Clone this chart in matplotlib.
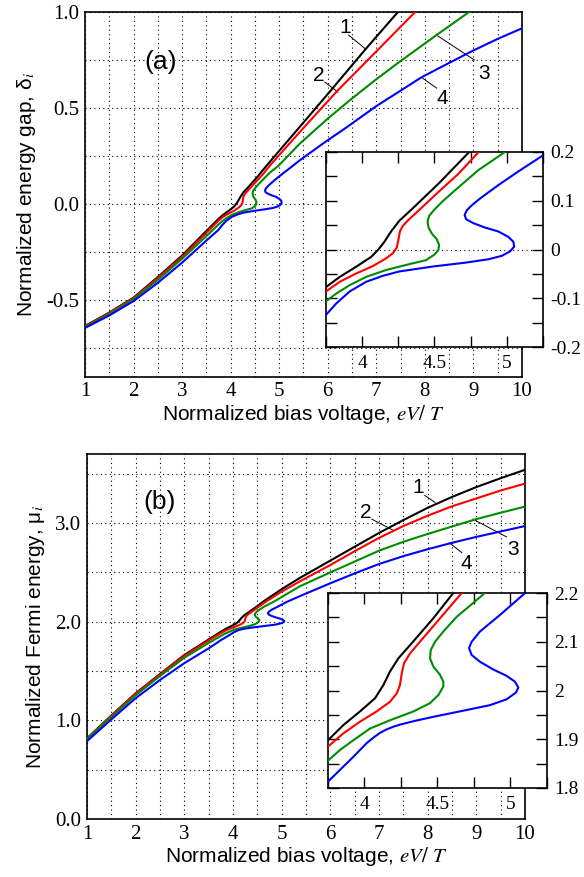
import matplotlib
matplotlib.use("Agg")
import matplotlib.pyplot as plt
from matplotlib.ticker import MultipleLocator, FormatStrFormatter, FuncFormatter

plt.rcParams['font.family'] = 'Liberation Serif'
plt.rcParams['mathtext.fontset'] = 'stix'

# ---- panel (a): energy gap vs bias voltage ----
gap_x1 = [1.0, 1.5, 2.0, 2.5, 3.0, 3.5, 3.75, 3.846, 3.96, 4.063, 4.115, 4.154, 4.20, 4.257, 4.348,
          4.531, 4.74, 5.43, 6.0, 6.78, 7.445]
gap_y1 = [-0.635, -0.565, -0.487, -0.38, -0.268, -0.14, -0.077, -0.056, -0.035, -0.015, 0.001, 0.016, 0.037,
          0.059, 0.084, 0.136, 0.2, 0.404, 0.573, 0.807, 1.0]
gap_x2 = [1.0, 1.5, 2.0, 2.5, 3.0, 3.5, 3.75, 3.846, 3.96, 4.074, 4.166, 4.211, 4.239, 4.25, 4.261, 4.28,
          4.314, 4.394, 4.531, 4.668, 4.805, 5.43, 6.18, 7.80]
gap_y2 = [-0.637, -0.567, -0.49, -0.385, -0.275, -0.15, -0.086, -0.066, -0.049, -0.034, -0.018, -0.008,
          0.004, 0.019, 0.037, 0.048, 0.059, 0.081, 0.119, 0.156, 0.2, 0.377, 0.585, 1.0]
gap_x3 = [1.0, 1.5, 2.0, 2.5, 3.0, 3.5, 3.75, 3.823, 3.914, 4.029, 4.166, 4.326, 4.44, 4.497, 4.527, 4.532,
          4.516, 4.481, 4.459, 4.452, 4.463, 4.497, 4.553, 4.644, 4.804, 4.987, 5.43, 6.0, 6.5, 7.0, 7.5,
          8.24, 8.91]
gap_y3 = [-0.64, -0.572, -0.495, -0.395, -0.285, -0.167, -0.106, -0.090, -0.073, -0.056, -0.042, -0.030,
          -0.022, -0.011, -0.001, 0.009, 0.021, 0.033, 0.045, 0.057, 0.069, 0.081, 0.098, 0.122, 0.163, 0.2,
          0.316, 0.445, 0.55, 0.65, 0.745, 0.88, 1.0]
gap_x4 = [1.0, 1.5, 2.0, 2.5, 3.0, 3.5, 3.75, 3.823, 3.914, 4.029, 4.143, 4.257, 4.485, 4.713, 4.873, 4.965,
          5.022, 5.051, 5.045, 5.010, 4.941, 4.849, 4.769, 4.719, 4.708, 4.725, 4.759, 4.817, 4.941, 5.079,
          5.234, 5.43, 5.9, 6.39, 7.0, 7.93, 8.5, 9.0, 9.5, 10.0]
gap_y4 = [-0.645, -0.58, -0.505, -0.41, -0.305, -0.19, -0.134, -0.110, -0.086, -0.066, -0.054, -0.045,
          -0.035, -0.027, -0.020, -0.013, -0.004, 0.006, 0.016, 0.026, 0.037, 0.045, 0.054, 0.062, 0.071,
          0.081, 0.091, 0.105, 0.132, 0.160, 0.190, 0.229, 0.315, 0.40, 0.51, 0.66, 0.735, 0.80, 0.86, 0.915]

# ---- panel (b): Fermi energy vs bias voltage ----
mu_x1 = [1.0, 1.5, 2.0, 2.5, 3.0, 3.5, 3.75, 3.855, 3.969, 4.072, 4.129, 4.175, 4.232, 4.312, 4.471, 4.608,
         5.0, 5.376, 6.0, 6.5, 7.0, 7.5, 8.0, 8.5, 9.0, 9.5, 10.0]
mu_y1 = [0.818, 1.05, 1.275, 1.47, 1.663, 1.82, 1.898, 1.929, 1.957, 1.984, 2.011, 2.039, 2.066, 2.093, 2.148,
         2.2, 2.33, 2.445, 2.62, 2.76, 2.9, 3.03, 3.155, 3.265, 3.365, 3.455, 3.54]
mu_x2 = [1.0, 1.5, 2.0, 2.5, 3.0, 3.5, 3.75, 3.855, 3.969, 4.083, 4.175, 4.221, 4.243, 4.255, 4.271, 4.312,
         4.380, 4.517, 4.666, 5.0, 5.376, 6.0, 6.5, 7.0, 7.5, 8.0, 8.5, 9.0, 9.5, 10.0]
mu_y2 = [0.815, 1.045, 1.27, 1.465, 1.655, 1.81, 1.885, 1.912, 1.936, 1.957, 1.977, 1.994, 2.011, 2.035,
         2.056, 2.076, 2.100, 2.148, 2.2, 2.305, 2.41, 2.575, 2.715, 2.85, 2.97, 3.075, 3.17, 3.25, 3.33, 3.40]
mu_x3 = [1.0, 1.5, 2.0, 2.5, 3.0, 3.5, 3.75, 3.832, 3.924, 4.038, 4.175, 4.335, 4.449, 4.507, 4.54, 4.54,
         4.518, 4.472, 4.449, 4.454, 4.483, 4.54, 4.631, 4.825, 5.376, 6.0, 6.5, 7.0, 7.5, 8.0, 8.5, 9.0,
         9.5, 10.0]
mu_y3 = [0.81, 1.035, 1.255, 1.45, 1.635, 1.785, 1.856, 1.878, 1.898, 1.922, 1.939, 1.957, 1.974, 1.991,
         2.008, 2.018, 2.032, 2.049, 2.066, 2.083, 2.100, 2.121, 2.151, 2.2, 2.36, 2.50, 2.61, 2.72, 2.81,
         2.89, 2.965, 3.04, 3.105, 3.167]
mu_x4 = [1.0, 1.5, 2.0, 2.5, 3.0, 3.5, 3.75, 3.832, 3.924, 4.015, 4.06, 4.106, 4.15, 4.2, 4.243, 4.35, 4.471,
         4.70, 4.86, 4.974, 5.038, 5.054, 5.031, 4.974, 4.883, 4.791, 4.734, 4.716, 4.734, 4.791, 4.928, 5.10,
         5.376, 6.0, 6.5, 7.0, 7.5, 8.0, 8.5, 9.0, 9.5, 10.0]
mu_y4 = [0.79, 1.01, 1.225, 1.41, 1.58, 1.73, 1.813, 1.837, 1.864, 1.892, 1.903, 1.913, 1.920, 1.926, 1.930,
         1.938, 1.946, 1.960, 1.970, 1.982, 1.996, 2.006, 2.018, 2.030, 2.043, 2.059, 2.073, 2.087, 2.100,
         2.121, 2.155, 2.2, 2.26, 2.39, 2.49, 2.585, 2.665, 2.735, 2.80, 2.86, 2.915, 2.97]

colors = ['black', '#ff0000', '#008c00', '#0000ff']
curve_names = ['1', '2', '3', '4']

# label text position, leader start, leader end (data coords)
gap_labels = [((6.35, 0.917), (6.43, 0.88), (6.78, 0.807)),
              ((5.81, 0.67), (5.94, 0.635), (6.21, 0.583)),
              ((9.21, 0.68), (9.02, 0.75), (8.24, 0.88)),
              ((8.35, 0.55), (8.24, 0.604), (7.93, 0.66))]
mu_labels = [((7.80, 3.365), (7.94, 3.28), (8.15, 3.21)),
             ((6.73, 3.11), (6.85, 3.04), (7.28, 2.93)),
             ((9.75, 2.73), (9.62, 2.86), (8.93, 3.04)),
             ((8.80, 2.59), (8.70, 2.70), (8.45, 2.80))]

sans = 'Liberation Sans'


def main_panel(ax, xs, ys, ylim, ystep, ylabel, tag, tagpos, labels):
    for x, y, c in zip(xs, ys, colors):
        ax.plot(x, y, color=c, lw=1.5, zorder=3)
    ax.set_xlim(1, 10)
    ax.set_ylim(*ylim)
    ax.xaxis.set_major_locator(MultipleLocator(1))
    ax.xaxis.set_minor_locator(MultipleLocator(0.5))
    ax.yaxis.set_major_locator(MultipleLocator(ystep))
    ax.yaxis.set_minor_locator(MultipleLocator(ystep / 2))
    ax.yaxis.set_major_formatter(FormatStrFormatter('%.1f'))
    ax.grid(True, which='both', color='black', ls=(0, (1, 3)), lw=0.8)
    ax.tick_params(which='both', length=0, labelsize=15, pad=4)
    for s in ax.spines.values():
        s.set_linewidth(1.2)
    ax.set_xlabel(r'Normalized bias voltage, $eV/\ T$', fontsize=15, family=sans, labelpad=1)
    ax.set_ylabel(ylabel, fontsize=15, family=sans, labelpad=6)
    ax.text(tagpos[0], tagpos[1], tag, fontsize=19, family=sans, ha='center', va='center')
    for name, (tp, l0, l1) in zip(curve_names, labels):
        ax.text(tp[0], tp[1], name, fontsize=15, family=sans, ha='center', va='center')
        ax.plot([l0[0], l1[0]], [l0[1], l1[1]], color='black', lw=0.7, zorder=2)


def inset_panel(ax, xs, ys, ylim, zero_line=None):
    for x, y, c in zip(xs, ys, colors):
        ax.plot(x, y, color=c, lw=1.5, zorder=3)
    if zero_line is not None:
        ax.axhline(zero_line, color='black', ls=(0, (1, 3)), lw=0.8, zorder=1)
    ax.set_xlim(3.75, 5.25)
    ax.set_ylim(*ylim)
    ax.xaxis.set_major_locator(MultipleLocator(0.5))
    ax.xaxis.set_minor_locator(MultipleLocator(0.25))
    ax.yaxis.set_major_locator(MultipleLocator(0.1))
    ax.yaxis.set_minor_locator(MultipleLocator(0.05))
    fmt = FuncFormatter(lambda v, p: '%g' % round(v, 2))
    ax.xaxis.set_major_formatter(fmt)
    ax.yaxis.set_major_formatter(fmt)
    ax.tick_params(which='both', direction='in', top=True, bottom=True, left=True, right=True,
                   labelleft=False, labelright=True, length=8, width=1.0, labelsize=14)
    ax.tick_params(axis='x', pad=6)
    ax.tick_params(axis='y', pad=5)
    for s in ax.spines.values():
        s.set_linewidth(1.2)


fig = plt.figure(figsize=(5.84, 8.77), dpi=100)

ax_a = fig.add_axes([0.1455, 0.5702, 0.7483, 0.4161])
main_panel(ax_a, [gap_x1, gap_x2, gap_x3, gap_x4], [gap_y1, gap_y2, gap_y3, gap_y4],
           (-0.9, 1.0), 0.5, 'Normalized energy gap, δ$_{i}$', '(a)', (2.55, 0.74), gap_labels)

ins_a = fig.add_axes([0.5582, 0.6043, 0.3716, 0.2224])
inset_panel(ins_a, [gap_x1, gap_x2, gap_x3, gap_x4], [gap_y1, gap_y2, gap_y3, gap_y4],
            (-0.2, 0.2), zero_line=0.0)

ax_b = fig.add_axes([0.149, 0.0661, 0.75, 0.4162])
main_panel(ax_b, [mu_x1, mu_x2, mu_x3, mu_x4], [mu_y1, mu_y2, mu_y3, mu_y4],
           (0.0, 3.7), 1.0, 'Normalized Fermi energy, μ$_{i}$', '(b)', (2.5, 3.21), mu_labels)

ins_b = fig.add_axes([0.5616, 0.1015, 0.375, 0.2223])
inset_panel(ins_b, [mu_x1, mu_x2, mu_x3, mu_x4], [mu_y1, mu_y2, mu_y3, mu_y4], (1.8, 2.2))

fig.savefig('out.png', dpi=100)
